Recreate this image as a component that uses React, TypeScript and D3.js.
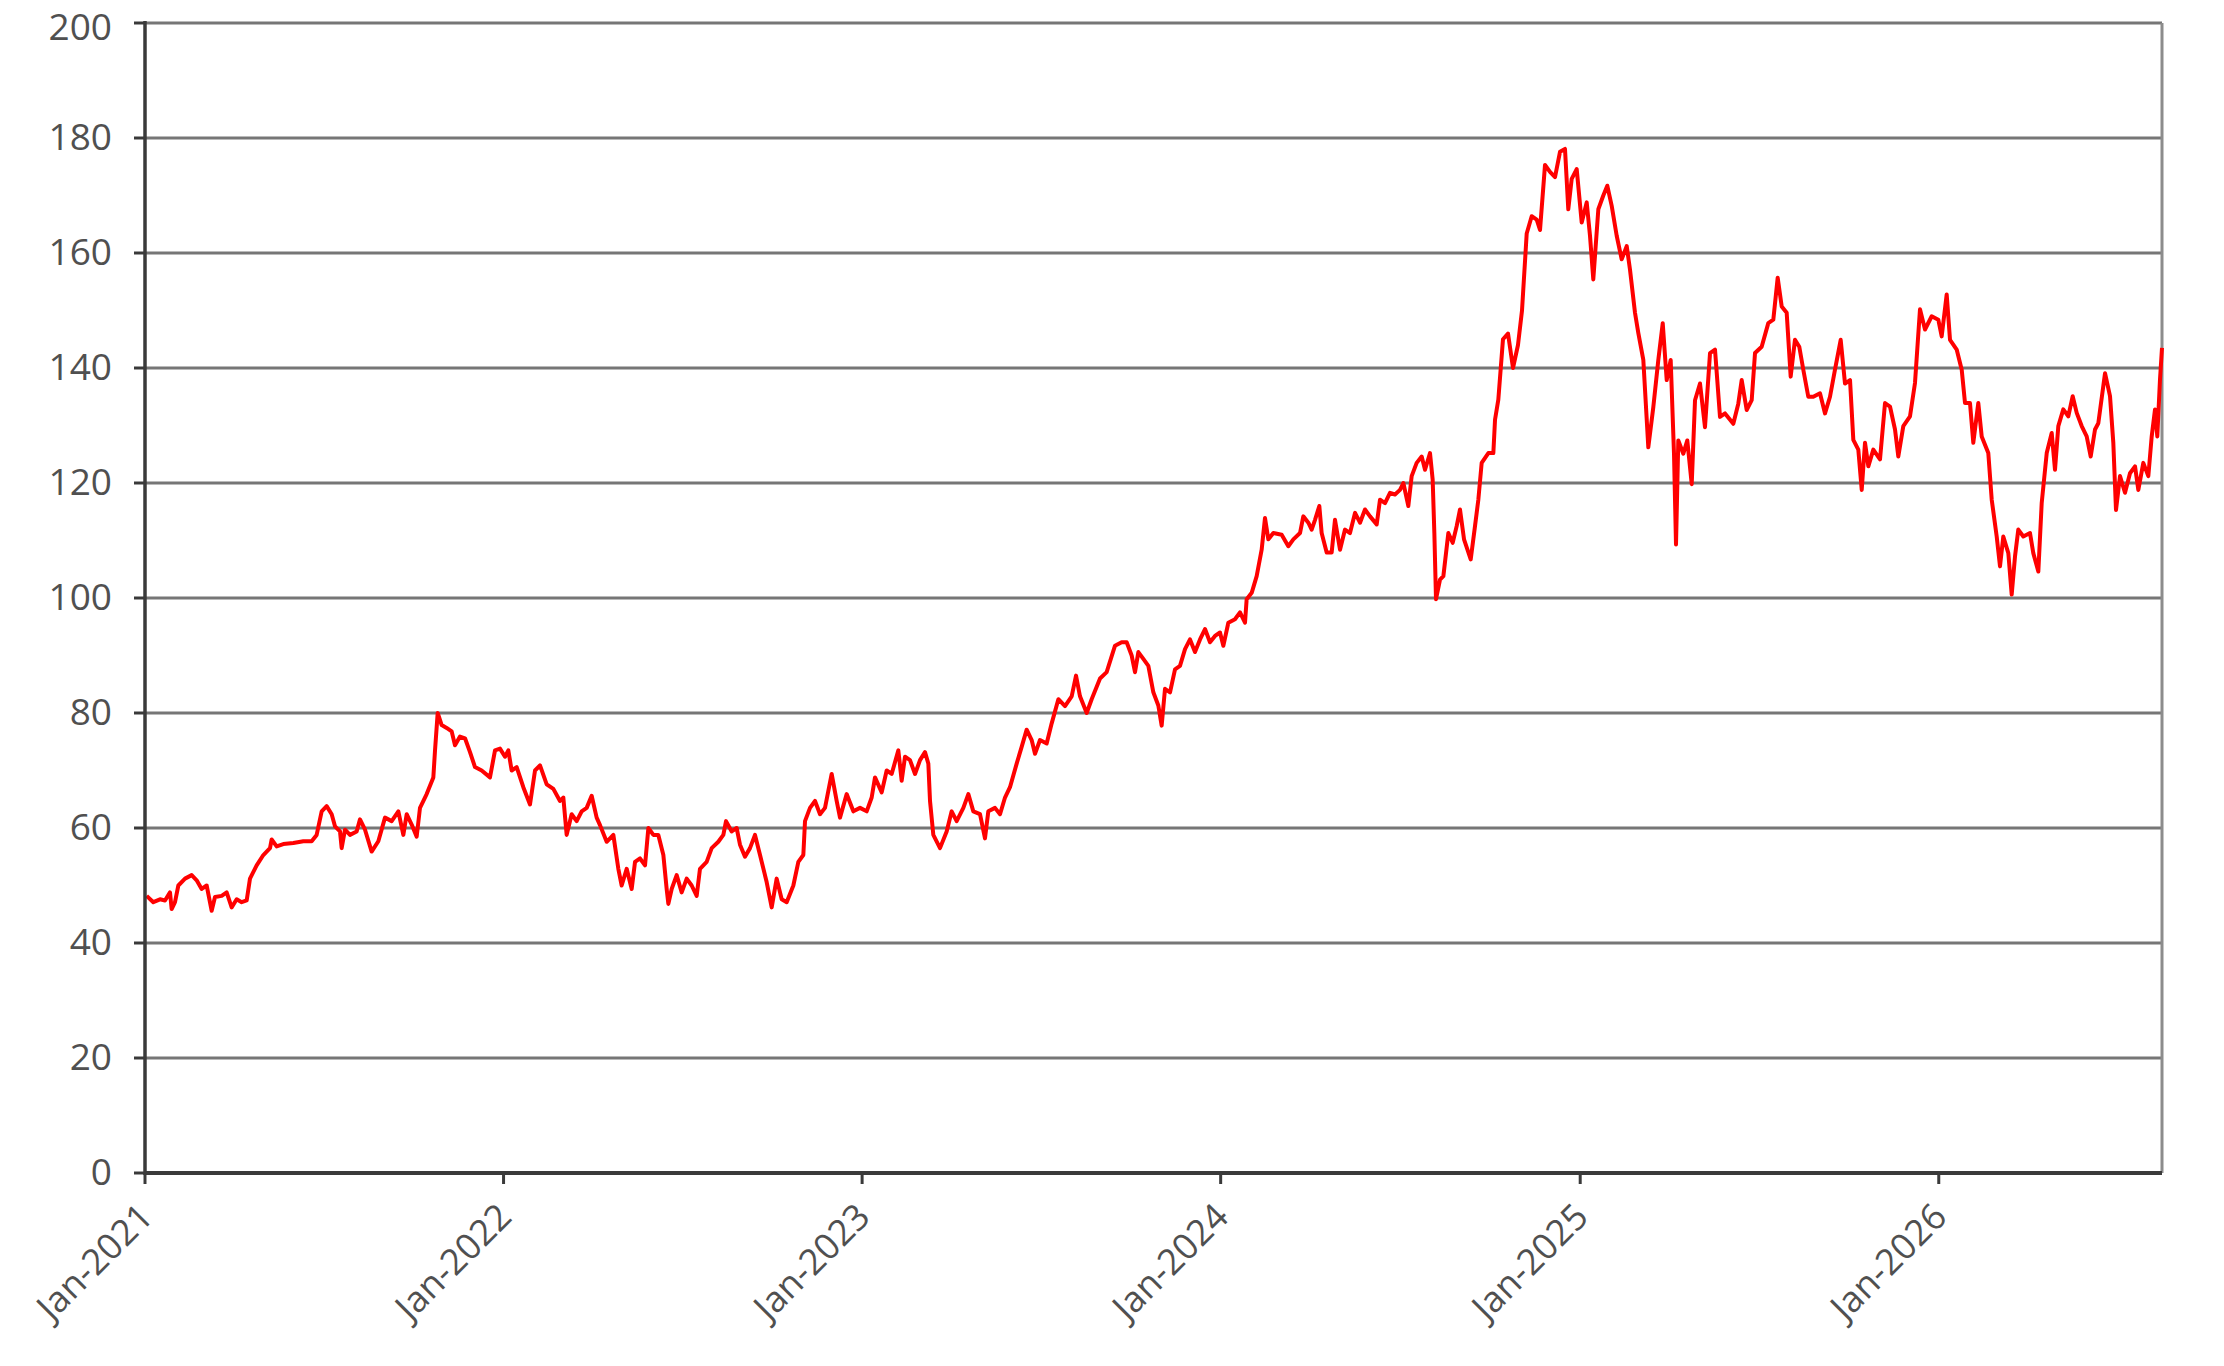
import * as d3 from 'd3';

// years elapsed since 1 Jan 2021 for each reading of the price line
const timePoints = [
  0.0046, 0.0232, 0.0418, 0.0557, 0.0697, 0.0743, 0.0836, 0.0929, 0.1115, 0.1301,
  0.1440, 0.1579, 0.1719, 0.1858, 0.1951, 0.2137, 0.2276, 0.2415, 0.2555, 0.2694,
  0.2834, 0.2926, 0.3112, 0.3298, 0.3484, 0.3530, 0.3670, 0.3855, 0.4134, 0.4413,
  0.4645, 0.4784, 0.4924, 0.5063, 0.5203, 0.5295, 0.5435, 0.5481, 0.5574, 0.5713,
  0.5899, 0.5992, 0.6132, 0.6317, 0.6503, 0.6689, 0.6875, 0.7061, 0.7200, 0.7293,
  0.7432, 0.7572, 0.7664, 0.7850, 0.8036, 0.8083, 0.8157, 0.8268, 0.8407, 0.8547,
  0.8640, 0.8779, 0.8919, 0.9058, 0.9197, 0.9383, 0.9615, 0.9755, 0.9894, 1.0033,
  1.0126, 1.0219, 1.0359, 1.0544, 1.0730, 1.0870, 1.1009, 1.1195, 1.1381, 1.1566,
  1.1659, 1.1752, 1.1891, 1.2031, 1.2170, 1.2310, 1.2449, 1.2588,
  1.2681, 1.2867, 1.3053, 1.3192, 1.3285, 1.3425, 1.3564, 1.3657, 1.3796, 1.3936,
  1.4029, 1.4168, 1.4307, 1.4447, 1.4539, 1.4586, 1.4679, 1.4818, 1.4958, 1.5097,
  1.5236, 1.5376, 1.5468, 1.5654, 1.5794, 1.5979, 1.6119, 1.6193, 1.6351, 1.6490,
  1.6583, 1.6722, 1.6862, 1.7001, 1.7141, 1.7326, 1.7466, 1.7605, 1.7745, 1.7884,
  1.8070, 1.8209, 1.8348, 1.8395, 1.8534, 1.8674, 1.8813, 1.8952, 1.9138, 1.9277,
  1.9370, 1.9556, 1.9742, 1.9928, 2.0114, 2.0253, 2.0346, 2.0532, 2.0671, 2.0810,
  2.0996, 2.1089, 2.1182, 2.1321, 2.1461, 2.1600, 2.1739, 2.1832, 2.1879, 2.1971,
  2.2157, 2.2343, 2.2482, 2.2622, 2.2808, 2.2947, 2.3086, 2.3272, 2.3411, 2.3504,
  2.3690, 2.3830, 2.3969, 2.4108, 2.4294, 2.4433, 2.4573, 2.4712, 2.4805, 2.4944,
  2.5130, 2.5270, 2.5456, 2.5641, 2.5827, 2.5948, 2.6059, 2.6245, 2.6384,
  2.6617, 2.6802, 2.7035, 2.7220, 2.7360, 2.7499, 2.7592, 2.7685, 2.7824, 2.7964,
  2.8103, 2.8242, 2.8335, 2.8428, 2.8568, 2.8707, 2.8846, 2.8986, 2.9125, 2.9264,
  2.9404, 2.9543, 2.9682, 2.9822, 2.9961, 3.0054, 3.0193, 3.0379, 3.0518, 3.0658,
  3.0704, 3.0844, 3.0983, 3.1122, 3.1215, 3.1308, 3.1447, 3.1680, 3.1865, 3.2005,
  3.2191, 3.2283, 3.2423, 3.2516, 3.2609, 3.2729, 3.2794, 3.2934, 3.3073, 3.3166,
  3.3306, 3.3445, 3.3584, 3.3724, 3.3863, 3.4002, 3.4142, 3.4328, 3.4420, 3.4560,
  3.4699, 3.4838, 3.4978, 3.5071, 3.5210, 3.5303, 3.5442, 3.5582, 3.5675, 3.5814,
  3.5888, 3.5935, 3.5981, 3.6093, 3.6186, 3.6325, 3.6446, 3.6557, 3.6650, 3.6762,
  3.6948, 3.7068, 3.7161, 3.7254, 3.7440, 3.7579, 3.7626, 3.7718,
  3.7848, 3.7988, 3.8127, 3.8266, 3.8378, 3.8509, 3.8648, 3.8788, 3.8880, 3.9019,
  3.9158, 3.9298, 3.9437, 3.9576, 3.9668, 3.9763, 3.9902, 4.0042, 4.0181, 4.0273,
  4.0365, 4.0505, 4.0644, 4.0755, 4.0878, 4.1017, 4.1156, 4.1296, 4.1388, 4.1527,
  4.1619, 4.1759, 4.1898, 4.2038, 4.2177, 4.2300, 4.2411, 4.2522, 4.2614, 4.2670,
  4.2734, 4.2874, 4.2985, 4.3108, 4.3200, 4.3339, 4.3478, 4.3618, 4.3757, 4.3896,
  4.4036, 4.4267, 4.4406, 4.4501, 4.4640, 4.4780, 4.4872, 4.5058, 4.5242, 4.5382,
  4.5504, 4.5616, 4.5755, 4.5866, 4.5986, 4.6106, 4.6218, 4.6357, 4.6497, 4.6683,
  4.6823, 4.6962, 4.7101, 4.7260, 4.7380, 4.7520,
  4.7612, 4.7751, 4.7846, 4.7938, 4.8030, 4.8169, 4.8356, 4.8495, 4.8634, 4.8774,
  4.8866, 4.9005, 4.9192, 4.9331, 4.9470, 4.9610, 4.9796, 4.9980, 5.0075, 5.0214,
  5.0307, 5.0493, 5.0633, 5.0725, 5.0864, 5.0956, 5.1095, 5.1190, 5.1374, 5.1469,
  5.1608, 5.1700, 5.1792, 5.1932, 5.2026, 5.2118, 5.2210, 5.2350, 5.2536, 5.2628,
  5.2768, 5.2862, 5.3002, 5.3141, 5.3233, 5.3325, 5.3464, 5.3604, 5.3726, 5.3838,
  5.3977, 5.4116, 5.4228, 5.4348, 5.4440, 5.4627, 5.4766, 5.4858, 5.4933, 5.5045,
  5.5184, 5.5323, 5.5463, 5.5555, 5.5694, 5.5834, 5.5928, 5.6020, 5.6084, 5.6159,
  5.6215,
];

const prices = [
  48.2, 47.1, 47.6, 47.4, 48.8, 45.9, 47.1, 50.0, 51.2, 51.8,
  50.9, 49.4, 50.0, 45.6, 48.0, 48.2, 48.8, 46.2, 47.6, 47.1,
  47.4, 51.2, 53.5, 55.3, 56.5, 58.0, 56.8, 57.2, 57.4, 57.7,
  57.7, 58.8, 62.9, 63.8, 62.4, 60.3, 59.4, 56.5, 59.7, 58.8,
  59.4, 61.5, 59.7, 55.9, 57.7, 61.8, 61.2, 62.9, 58.8, 62.4,
  60.6, 58.5, 63.5, 65.9, 68.8, 73.5, 80.0, 77.9, 77.4, 76.8,
  74.4, 75.9, 75.6, 73.2, 70.6, 70.0, 68.8, 73.5, 73.8, 72.4,
  73.5, 70.0, 70.6, 67.1, 64.1, 70.0, 70.9, 67.6, 66.8, 64.7,
  65.3, 58.8, 62.4, 61.2, 62.9, 63.5, 65.6, 61.8,
  60.5, 57.6, 58.8, 52.9, 50.0, 52.9, 49.4, 54.1, 54.7, 53.5,
  60.0, 58.8, 58.8, 55.3, 49.4, 46.8, 49.4, 51.8, 48.8, 51.2,
  50.0, 48.2, 52.9, 54.1, 56.5, 57.6, 58.8, 61.2, 59.4, 60.0,
  57.1, 55.0, 56.5, 58.8, 55.3, 50.6, 46.2, 51.2, 47.6, 47.1,
  50.0, 54.1, 55.3, 61.2, 63.5, 64.7, 62.4, 63.5, 69.4, 64.7,
  61.8, 65.9, 62.9, 63.5, 62.9, 65.3, 68.8, 66.2, 70.0, 69.4,
  73.5, 68.2, 72.4, 71.8, 69.4, 71.8, 73.2, 71.2, 64.7, 58.8,
  56.5, 59.4, 62.9, 61.2, 63.5, 65.9, 62.9, 62.4, 58.2, 62.9,
  63.5, 62.4, 65.3, 67.1, 71.2, 74.1, 77.1, 75.3, 72.9, 75.3,
  74.7, 78.2, 82.4, 81.2, 82.9, 86.5, 82.9, 80.0, 82.4,
  86.0, 87.1, 91.7, 92.3, 92.3, 90.0, 87.1, 90.6, 89.4, 88.2,
  83.6, 81.3, 77.8, 84.2, 83.6, 87.6, 88.2, 91.1, 92.8, 90.6,
  92.8, 94.6, 92.3, 93.4, 94.0, 91.7, 95.7, 96.3, 97.5, 95.7,
  99.8, 100.9, 103.8, 108.4, 113.9, 110.2, 111.3, 111.0, 109.0, 110.2,
  111.3, 114.2, 113.1, 111.9, 113.6, 116.0, 111.3, 107.9, 107.9, 113.6,
  108.4, 111.9, 111.3, 114.8, 113.1, 115.4, 114.2, 112.8, 117.1, 116.5,
  118.3, 118.0, 118.8, 120.0, 116.0, 121.2, 123.5, 124.6, 122.3, 125.2,
  120.6, 111.3, 99.8, 103.2, 103.8, 111.3, 109.6, 112.5, 115.4, 110.2,
  106.7, 112.5, 117.1, 123.5, 125.2, 125.2, 131.0, 134.5,
  145.0, 146.0, 140.0, 144.0, 150.0, 163.4, 166.4, 165.8, 164.0, 175.3,
  174.1, 173.2, 177.6, 178.1, 167.6, 172.9, 174.6, 165.3, 168.8, 163.0,
  155.4, 167.6, 170.0, 171.7, 168.2, 163.0, 158.9, 161.2, 157.1, 149.6,
  146.1, 141.4, 126.2, 133.2, 141.4, 147.8, 137.9, 141.4, 125.1, 109.3,
  127.4, 125.1, 127.4, 119.8, 134.4, 137.3, 129.7, 142.6, 143.2, 131.5,
  132.1, 130.3, 133.8, 137.9, 132.7, 134.4, 142.6, 143.7, 147.8, 148.4,
  155.7, 150.7, 149.6, 138.5, 144.9, 143.7, 139.7, 135.0, 135.0, 135.6,
  132.1, 135.0, 139.7, 144.9, 137.3, 137.9,
  127.5, 125.8, 118.8, 127.0, 122.9, 125.8, 124.1, 133.9, 133.3, 129.3,
  124.6, 129.9, 131.6, 137.4, 150.2, 146.7, 149.0, 148.4, 145.5, 152.8,
  144.9, 143.2, 139.7, 133.9, 133.9, 127.0, 133.9, 128.1, 125.2, 117.1,
  110.7, 105.5, 110.7, 107.8, 100.6, 107.2, 111.9, 110.7, 111.3, 107.8,
  104.6, 116.5, 125.2, 128.7, 122.3, 129.9, 132.8, 131.6, 135.1, 132.2,
  129.9, 128.1, 124.6, 129.3, 130.4, 139.1, 135.1, 127.0, 115.3, 121.2,
  118.3, 121.7, 122.9, 118.8, 123.5, 121.2, 128.1, 132.8, 128.1, 138.0,
  143.5,
];

const yTicks = [0, 20, 40, 60, 80, 100, 120, 140, 160, 180, 200];
const tickYears = [2021, 2022, 2023, 2024, 2025, 2026];
const lastOffset = 5.6215;

const startMs = new Date(2021, 0, 1).getTime();
const toDate = (offset: number) => new Date(startMs + offset * 365.25 * 864e5);

export default function App() {
  const left = 145;
  const right = 2162;
  const top = 23;
  const bottom = 1173;

  const x = d3.scaleTime()
    .domain([new Date(2021, 0, 1), toDate(lastOffset)])
    .range([left, right]);

  const y = d3.scaleLinear()
    .domain([0, 200])
    .range([bottom, top]);

  const fmt = d3.timeFormat('%b-%Y');
  const xTicks = tickYears.map(yr => new Date(yr, 0, 1));

  const line = d3.line<number>()
    .x((_, i) => x(toDate(timePoints[i])))
    .y(d => y(d));

  const font = '"Open Sans", "Noto Sans", sans-serif';

  return (
    <svg
      width={2224}
      height={1366}
      style={{ position: 'absolute', left: 0, top: 0, background: '#fff' }}
    >
      {/* horizontal gridlines */}
      {yTicks.map(t => (
        <line key={'g' + t} x1={left} x2={right} y1={y(t)} y2={y(t)} stroke="#767676" strokeWidth={3} />
      ))}
      {/* right border of plot area */}
      <line x1={right} x2={right} y1={top} y2={bottom} stroke="#8c8c8c" strokeWidth={3} />

      <path d={line(prices) || ''} fill="none" stroke="#ff0000" strokeWidth={4} strokeLinejoin="round" />

      {/* y axis */}
      <line x1={left} x2={left} y1={top - 2} y2={bottom + 2} stroke="#3a3a3a" strokeWidth={3.5} />
      {yTicks.map(t => (
        <g key={'y' + t}>
          <line x1={left - 11} x2={left} y1={y(t)} y2={y(t)} stroke="#3a3a3a" strokeWidth={3} />
          <text
            x={112}
            y={y(t)}
            dy={t === 200 ? '0.46em' : '0.33em'}
            textAnchor="end"
            fontFamily={font}
            fontSize={37}
            fill="#505050"
          >
            {t}
          </text>
        </g>
      ))}

      {/* x axis */}
      <line x1={left} x2={right} y1={bottom} y2={bottom} stroke="#3a3a3a" strokeWidth={4} />
      {xTicks.map(d => (
        <g key={'x' + d.getFullYear()}>
          <line x1={x(d)} x2={x(d)} y1={bottom} y2={bottom + 11} stroke="#3a3a3a" strokeWidth={3} />
          <text
            transform={`translate(${x(d) + 10},${bottom + 46}) rotate(-45)`}
            textAnchor="end"
            fontFamily={font}
            fontSize={36}
            fill="#505050"
          >
            {fmt(d)}
          </text>
        </g>
      ))}
    </svg>
  );
}
